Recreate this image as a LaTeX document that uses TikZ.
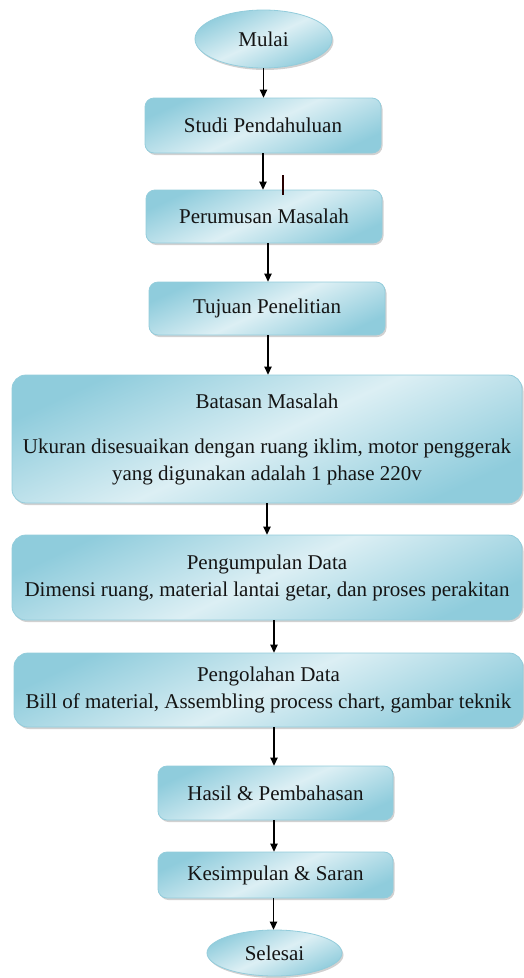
\documentclass[tikz,border=0pt]{standalone}
\usepackage{fontspec}
\setmainfont{Liberation Serif}
\usetikzlibrary{shapes.geometric,shadows,arrows.meta}
\definecolor{edgeblue}{HTML}{93CCDB}
\definecolor{darkaqua}{HTML}{8FCCDC}
\definecolor{lightaqua}{HTML}{DCEFF4}
\definecolor{txt}{HTML}{141414}
\tikzset{
  boxbase/.style={draw=edgeblue, line width=0.8pt,
    top color=darkaqua, bottom color=darkaqua, middle color=lightaqua,
    shading angle=25,
    drop shadow={shadow xshift=1.5pt, shadow yshift=-2pt, opacity=0.3, fill=black!60},
    text=txt, font=\fontsize{21}{27}\selectfont, inner sep=0pt, align=center},
  stepbox/.style={boxbase, rectangle, rounded corners=9pt},
  bigbox/.style={boxbase, rectangle, rounded corners=14pt},
  termbox/.style={boxbase, ellipse},
  arr/.style={draw=black, line width=1.2pt, -{Triangle[length=8pt,width=7.5pt]}}
}
\begin{document}
\begin{tikzpicture}[x=1pt,y=-1pt]
\useasboundingbox (0,0) rectangle (523,978);
\node[termbox, minimum width=137pt, minimum height=58pt] (mulai) at (263.5,39) {Mulai};
\node[stepbox, minimum width=236pt, minimum height=55pt] (studi) at (263,125.5) {Studi Pendahuluan};
\node[stepbox, minimum width=236pt, minimum height=53pt] (rumus) at (264,216.5) {Perumusan Masalah};
\node[stepbox, minimum width=236pt, minimum height=53pt] (tujuan) at (267,308.5) {Tujuan Penelitian};
\node[bigbox, minimum width=510pt, minimum height=128pt] (batas) at (267,439)
  {Batasan Masalah\\[18pt]Ukuran disesuaikan dengan ruang iklim, motor penggerak\\yang digunakan adalah 1 phase 220v};
\node[bigbox, minimum width=510pt, minimum height=85pt] (kumpul) at (267,577.5)
  {Pengumpulan Data\\Dimensi ruang, material lantai getar, dan proses perakitan};
\node[bigbox, minimum width=509pt, minimum height=74pt] (olah) at (268.5,690)
  {Pengolahan Data\\Bill of material, Assembling process chart, gambar teknik};
\node[stepbox, minimum width=235pt, minimum height=54pt] (hasil) at (275.5,793) {Hasil \& Pembahasan};
\node[stepbox, minimum width=235pt, minimum height=46pt] (simpul) at (275.5,875) {Kesimpulan \& Saran};
\node[termbox, minimum width=135pt, minimum height=46pt] (selesai) at (274.5,953) {Selesai};

\draw[arr] (mulai.south) -- (mulai.south |- studi.north);
\draw[arr] (studi.south) -- (studi.south |- rumus.north);
\draw[arr] ([xshift=4pt]rumus.south) -- ([xshift=4pt]rumus.south |- tujuan.north);
\draw[arr] ([xshift=1pt]tujuan.south) -- ([xshift=1pt]tujuan.south |- batas.north);
\draw[arr] (batas.south) -- (batas.south |- kumpul.north);
\draw[arr] ([xshift=7pt]kumpul.south) -- ([xshift=7pt]kumpul.south |- olah.north);
\draw[arr] ([xshift=5.5pt]olah.south) -- ([xshift=5.5pt]olah.south |- hasil.north);
\draw[arr] ([xshift=-1.5pt]hasil.south) -- ([xshift=-1.5pt]hasil.south |- simpul.north);
\draw[arr] ([xshift=-2pt]simpul.south) -- ([xshift=-2pt]simpul.south |- selesai.north);

\coordinate (tickA) at (283,175);
\coordinate (tickB) at (283,195);
\draw[line width=2pt, draw=black!85!red] (tickA) -- (tickB);
\end{tikzpicture}
\end{document}
